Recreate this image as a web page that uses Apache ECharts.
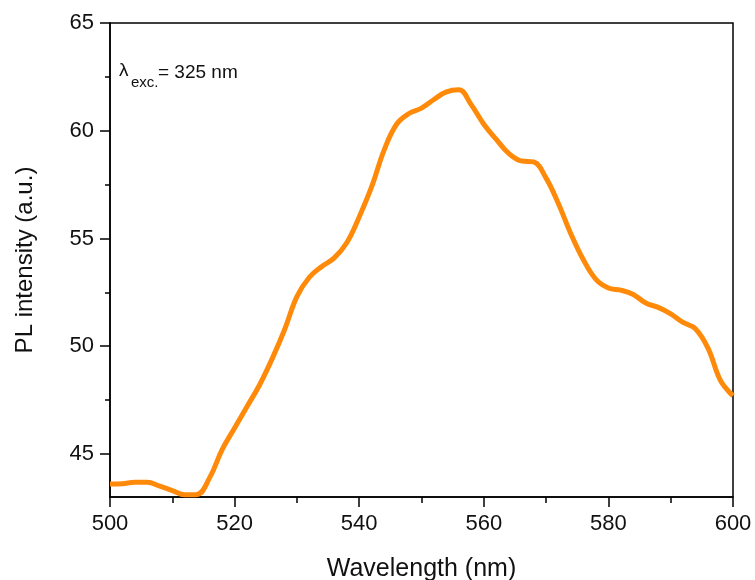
<!DOCTYPE html>
<html>
<head>
<meta charset="utf-8">
<script src="https://cdn.jsdelivr.net/npm/echarts@6/dist/echarts.min.js"></script>
<style>html,body{margin:0;padding:0;background:#fff}#c{width:755px;height:580px}</style>
</head>
<body>
<div id="c"></div>
<script>
const wavelengths = [500,502,504,506,508,510,512,514,516,518,520,522,524,526,528,530,532,534,536,538,540,542,544,546,548,550,552,554,556,558,560,562,564,566,568,570,572,574,576,578,580,582,584,586,588,590,592,594,596,598,600];
const intensity = [43.6,43.62,43.68,43.68,43.5,43.3,43.1,43.12,43.9,45.2,46.2,47.2,48.2,49.4,50.75,52.3,53.2,53.7,54.1,54.8,56.0,57.4,59.1,60.3,60.8,61.05,61.45,61.8,61.9,61.2,60.3,59.6,58.95,58.6,58.55,57.8,56.6,55.2,54.0,53.1,52.7,52.6,52.4,52.0,51.8,51.5,51.1,50.8,49.9,48.4,47.7];
const yMajorTicks = [45,50,55,60,65];
const yMinorTicks = [47.5,52.5,57.5,62.5];
const xTitle = 'Wavelength (nm)';
const yTitle = 'PL intensity (a.u.)';

const chart = echarts.init(document.getElementById('c'), null, {renderer:'canvas'});
const font = 'Liberation Sans, Arial, sans-serif';
const gridBox = {left:110, right:22, top:23, bottom:83};
chart.setOption({
  backgroundColor:'#fff',
  animation:false,
  grid:[Object.assign({show:true, borderColor:'#000', borderWidth:1.5, backgroundColor:'transparent', containLabel:false, outerBoundsMode:'none'}, gridBox)],
  xAxis:{
    type:'value', min:500, max:600, interval:20,
    name:xTitle, nameLocation:'middle', nameGap:60,
    nameTextStyle:{fontFamily:font, fontSize:25, color:'#111'},
    axisLine:{lineStyle:{color:'#000', width:1.5}},
    axisTick:{inside:false, length:10, lineStyle:{color:'#000', width:1.5}},
    minorTick:{show:true, splitNumber:2, length:6, lineStyle:{color:'#000', width:1.5}},
    axisLabel:{fontFamily:font, fontSize:22, color:'#111', margin:16},
    splitLine:{show:false}
  },
  yAxis:[{
    type:'value', min:43, max:65,
    name:yTitle, nameLocation:'middle', nameGap:73, nameRotate:90,
    nameTextStyle:{fontFamily:font, fontSize:24, color:'#111'},
    axisLine:{show:true, lineStyle:{color:'#000', width:1.5}},
    axisTick:{show:true, length:10, customValues:yMajorTicks, lineStyle:{color:'#000', width:1.5}},
    axisLabel:{fontFamily:font, fontSize:22, color:'#111', margin:16, customValues:yMajorTicks},
    splitLine:{show:false}
  },{
    type:'value', min:43, max:65, position:'left',
    axisLine:{show:false},
    axisTick:{show:true, length:5, customValues:yMinorTicks, lineStyle:{color:'#000', width:1.5}},
    axisLabel:{show:false},
    splitLine:{show:false}
  }],
  series:[{
    type:'line', yAxisIndex:0,
    data: wavelengths.map((w,i)=>[w, intensity[i]]),
    smooth:0.4, showSymbol:false, clip:false,
    lineStyle:{color:'#FF8A0A', width:5},
    z:3
  }],
  graphic:[
    {type:'text', left:119, top:61, style:{text:'λ', font:'19px '+font, fill:'#111'}},
    {type:'text', left:131, top:75, style:{text:'exc.', font:'15px '+font, fill:'#111'}},
    {type:'text', left:158, top:63, style:{text:'= 325 nm', font:'19px '+font, fill:'#111'}}
  ]
});
</script>
</body>
</html>
